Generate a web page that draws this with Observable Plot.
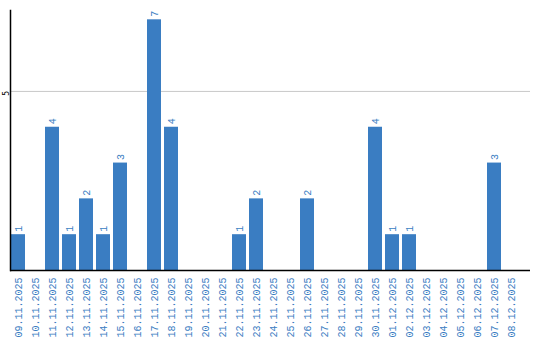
<!DOCTYPE html>
<html>
<head>
<meta charset="utf-8">
<script src="https://cdn.jsdelivr.net/npm/d3@7"></script>
<script src="https://cdn.jsdelivr.net/npm/@observablehq/plot@0.6"></script>
<style>
  html, body { margin: 0; padding: 0; background: #fff; }
</style>
</head>
<body>
<div id="chart"></div>
<script>
const dates = ["09.11.2025","10.11.2025","11.11.2025","12.11.2025","13.11.2025","14.11.2025","15.11.2025","16.11.2025","17.11.2025","18.11.2025","19.11.2025","20.11.2025","21.11.2025","22.11.2025","23.11.2025","24.11.2025","25.11.2025","26.11.2025","27.11.2025","28.11.2025","29.11.2025","30.11.2025","01.12.2025","02.12.2025","03.12.2025","04.12.2025","05.12.2025","06.12.2025","07.12.2025","08.12.2025"];
const values = [1,0,4,1,2,1,3,0,7,4,0,0,0,1,2,0,0,2,0,0,0,4,1,1,0,0,0,0,3,0];
const yTicks = [5];

const data = dates.map((d, i) => ({date: d, value: values[i]}));
const blue = "#3a7dc2";

const chart = Plot.plot({
  width: 540,
  height: 340,
  marginTop: 10,
  marginBottom: 70,
  marginLeft: 10,
  marginRight: 10,
  style: {fontFamily: "Liberation Mono", fontSize: "10px", background: "#fff"},
  x: {type: "band", domain: dates, range: [11, 518], paddingInner: 3/17, paddingOuter: 0, align: 0.5},
  y: {domain: [0, 7.26]},
  marks: [
    Plot.ruleY(yTicks, {stroke: "#c8c8c8", strokeWidth: 1}),
    Plot.barY(data, {x: "date", y: "value", fill: blue}),
    Plot.text(data.filter(d => d.value > 0), {x: "date", y: "value", text: d => String(d.value), rotate: -90, textAnchor: "start", dy: -3, fill: blue}),
    Plot.axisX({tickRotate: -90, tickSize: 0, tickPadding: 7, fill: blue, label: null}),
    Plot.axisY({ticks: yTicks, tickSize: 0, tickPadding: 2, tickRotate: -90, fontSize: 8, fontFamily: "DejaVu Sans Mono", fill: "#000", dy: 2, label: null}),
    Plot.frame({anchor: "left", stroke: "#000", strokeWidth: 1.5}),
    Plot.ruleY([0], {stroke: "#000", strokeWidth: 1.5})
  ]
});
document.getElementById("chart").appendChild(chart);
</script>
</body>
</html>
